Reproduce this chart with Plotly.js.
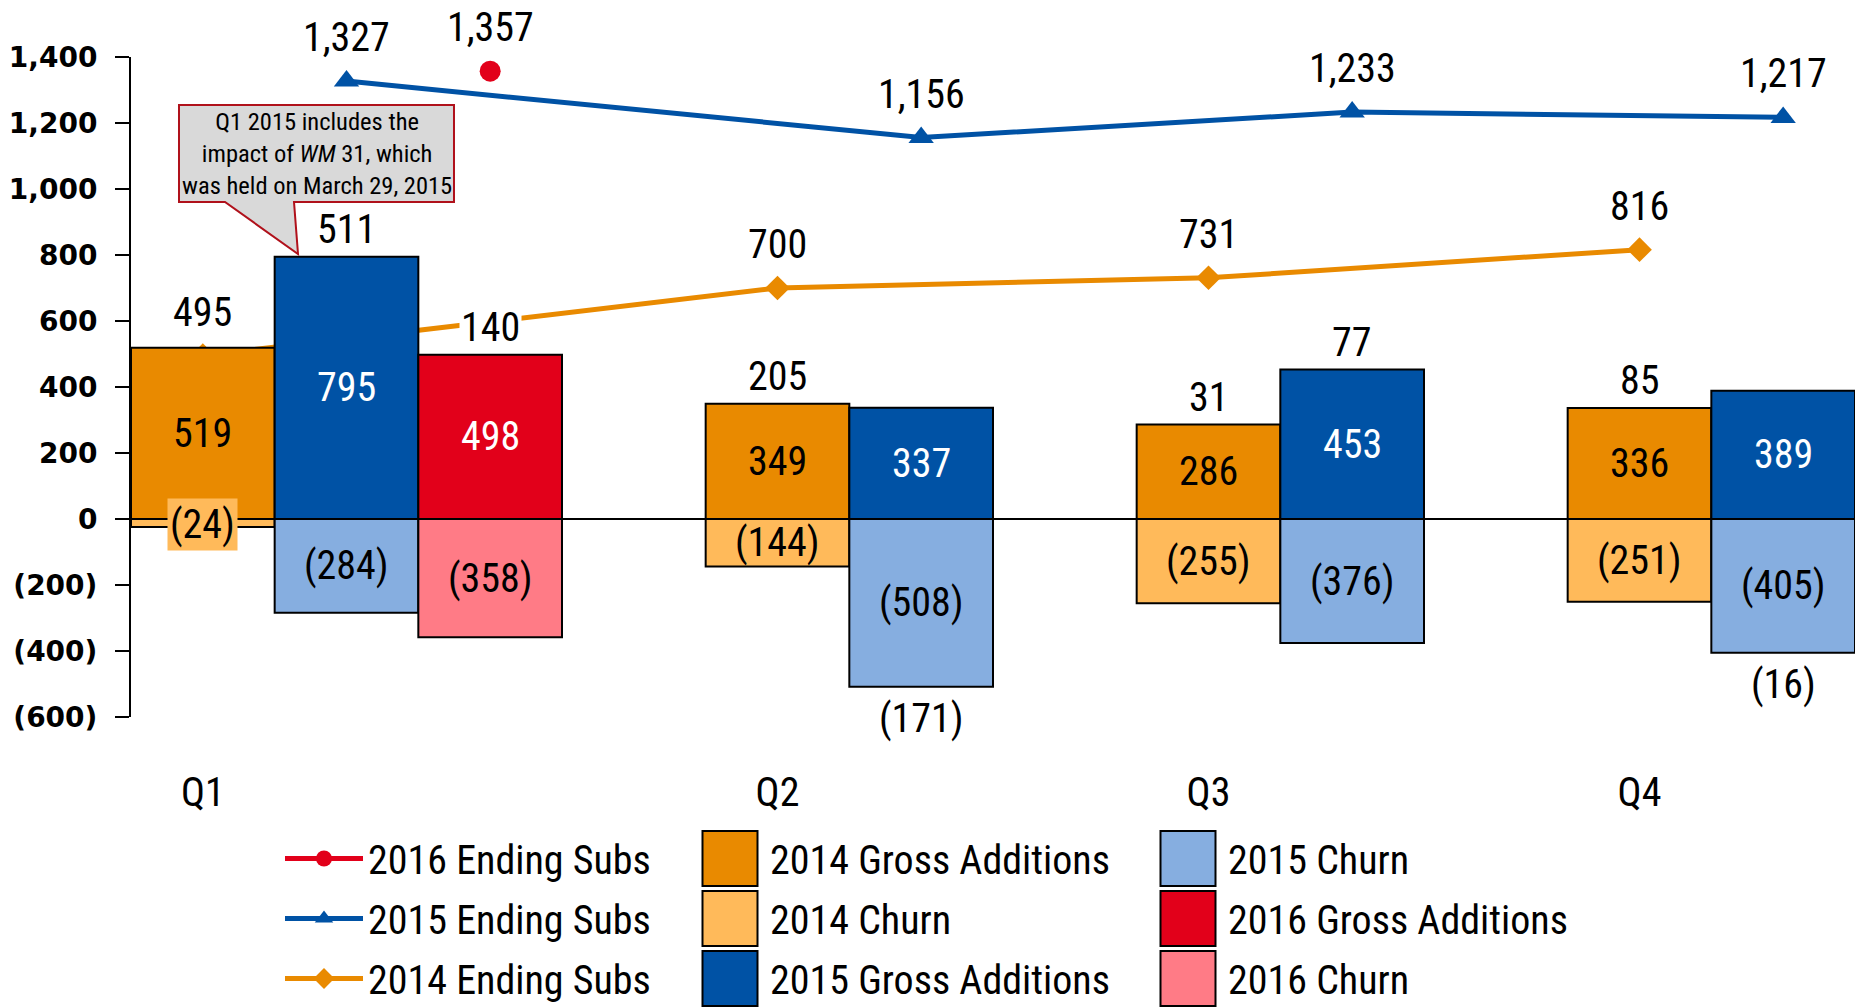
<!DOCTYPE html>
<html><head><meta charset="utf-8">
<script src="https://cdn.plot.ly/plotly-3.0.1.min.js"></script>
<style>html,body{margin:0;padding:0;background:#fff}#chart{width:1858px;height:1007px}</style>
</head><body><div id="chart"></div>
<script>
// ---------------- DATA ----------------
const quarters = ['Q1', 'Q2', 'Q3', 'Q4'];
const gross2014 = [519, 349, 286, 336];
const churn2014 = [-24, -144, -255, -251];
const gross2015 = [795, 337, 453, 389];
const churn2015 = [-284, -508, -376, -405];
const gross2016 = [498];
const churn2016 = [-358];
const ending2014 = [495, 700, 731, 816];
const ending2015 = [1327, 1156, 1233, 1217];
const ending2016 = [1357];
const yTickVals = [-600, -400, -200, 0, 200, 400, 600, 800, 1000, 1200, 1400];
const yTickText = ['(600)', '(400)', '(200)', '0', '200', '400', '600', '800', '1,000', '1,200', '1,400'];
const calloutText = 'Q1 2015 includes the<br>impact of <i>WM</i> 31, which<br>was held on March 29, 2015';

// ---------------- LAYOUT HELPERS ----------------
const W = 1858, H = 1007;
const M = {l: 131, r: 3, t: 57, b: 290, autoexpand: false};
const PW = W - M.l - M.r, PH = H - M.t - M.b;
const px2x = p => (p - M.l) / PW;
const px2y = p => (M.t + PH - p) / PH;
const slotOf = (q, yearOffset) => (q === 0 ? 0 : 3 * q + 1) + yearOffset;

const NARROW = '"Roboto Condensed", "Liberation Sans Narrow", "Arial Narrow", "DejaVu Sans Condensed", sans-serif';
const FS = 40;
const C = {
  g14: '#E98A00', c14: '#FFBA5A',
  g15: '#0052A5', c15: '#86AEE0',
  g16: '#E2001A', c16: '#FF7B86'
};

const fmt = v => {
  const s = Math.abs(v).toLocaleString('en-US');
  return v < 0 ? '(' + s + ')' : s;
};

const series = [
  {year: 2014, off: 0, gross: gross2014, churn: churn2014, ending: ending2014, gc: C.g14, cc: C.c14, gtxt: '#000', line: C.g14, sym: 'diamond', msize: 19, legRank: 3},
  {year: 2015, off: 1, gross: gross2015, churn: churn2015, ending: ending2015, gc: C.g15, cc: C.c15, gtxt: '#fff', line: C.g15, sym: 'triangle-up', msize: 22, legRank: 2},
  {year: 2016, off: 2, gross: gross2016, churn: churn2016, ending: ending2016, gc: C.g16, cc: C.c16, gtxt: '#fff', line: C.g16, sym: 'circle', msize: 21, legRank: 1}
];

const traces = [];
const annotations = [];
const barLegend = {2014: ['legend2', 'legend2'], 2015: ['legend2', 'legend3'], 2016: ['legend3', 'legend3']};
const barRank = {2014: [1, 2], 2015: [3, 1], 2016: [2, 3]};

// lines (base axis -> beneath bars)
series.slice().reverse().forEach(s => {
  const xs = s.ending.map((v, q) => slotOf(q, s.off));
  traces.push({
    type: 'scatter', mode: 'lines+markers', name: s.year + ' Ending Subs',
    x: xs, y: s.ending, xaxis: 'x', yaxis: 'y',
    line: {color: s.line, width: 5},
    marker: {symbol: s.sym, size: s.msize, color: s.line},
    cliponaxis: false, legend: 'legend', legendrank: s.legRank, legendgroup: 'e' + s.year, hoverinfo: 'skip'
  });
  s.ending.forEach((v, q) => {
    annotations.push({x: slotOf(q, s.off), y: v, xref: 'x', yref: 'y', text: fmt(v), showarrow: false,
      yanchor: 'bottom', yshift: 18, font: {family: NARROW, size: FS, color: '#000'}});
  });
});

// bars (overlay axis -> drawn on top of lines)
series.forEach(s => {
  const xs = s.gross.map((v, q) => slotOf(q, s.off));
  traces.push({
    type: 'bar', name: s.year + ' Gross Additions', x: xs, y: s.gross, xaxis: 'x', yaxis: 'y2', width: 1,
    marker: {color: s.gc, line: {color: '#000', width: 2}},
    legend: barLegend[s.year][0], legendrank: barRank[s.year][0], legendgroup: 'g' + s.year, hoverinfo: 'skip'
  });
  traces.push({
    type: 'bar', name: s.year + ' Churn', x: xs, y: s.churn, xaxis: 'x', yaxis: 'y2', width: 1,
    marker: {color: s.cc, line: {color: '#000', width: 2}},
    legend: barLegend[s.year][1], legendrank: barRank[s.year][1], legendgroup: 'c' + s.year, hoverinfo: 'skip'
  });
  s.gross.forEach((g, q) => {
    const x = slotOf(q, s.off);
    const c = s.churn[q];
    annotations.push({x, y: g / 2, xref: 'x', yref: 'y2', text: fmt(g), showarrow: false,
      font: {family: NARROW, size: FS, color: s.gtxt}});
    const small = Math.abs(c) < 80;
    annotations.push({x, y: small ? c / 2 - 6 : c / 2, xref: 'x', yref: 'y2', text: fmt(c), showarrow: false,
      bgcolor: small ? s.cc : 'rgba(0,0,0,0)', borderpad: small ? 2 : 1,
      font: {family: NARROW, size: FS, color: '#000'}});
    const net = g + c;
    if (q === 0 && s.year === 2014 && net === s.ending[0]) return; // shown by ending label
    if (net >= 0) {
      annotations.push({x, y: g, xref: 'x', yref: 'y2', text: fmt(net), showarrow: false,
        yanchor: 'bottom', yshift: 2, bgcolor: '#fff', font: {family: NARROW, size: FS, color: '#000'}});
    } else {
      annotations.push({x, y: c, xref: 'x', yref: 'y2', text: fmt(net), showarrow: false,
        yanchor: 'top', yshift: -6, font: {family: NARROW, size: FS, color: '#000'}});
    }
  });
});

// callout
const box = {l: 179, r: 454, t: 105, b: 202, wl: 225, wr: 294, tx: 298, ty: 254};
const pts = [[box.l, box.t], [box.r, box.t], [box.r, box.b], [box.wr, box.b], [box.tx, box.ty], [box.wl, box.b], [box.l, box.b]];
const path = 'M' + pts.map(p => px2x(p[0]).toFixed(5) + ',' + px2y(p[1]).toFixed(5)).join('L') + 'Z';
annotations.push({xref: 'paper', yref: 'paper', x: px2x((box.l + box.r) / 2), y: px2y((box.t + box.b) / 2),
  text: calloutText, showarrow: false, xanchor: 'center', yanchor: 'middle',
  font: {family: NARROW, size: 24.5, color: '#000'}});

const axisY = {
  range: [-600, 1400], domain: [0, 1], tickvals: yTickVals, ticktext: yTickText,
  ticks: 'outside', ticklen: 14, tickwidth: 2, tickcolor: '#000',
  showline: true, linewidth: 2, linecolor: '#000', showgrid: false,
  zeroline: true, zerolinecolor: '#000', zerolinewidth: 2,
  tickfont: {family: '"DejaVu Sans", Verdana, sans-serif', size: 28, color: '#000', weight: 'bold'},
  ticklabelstandoff: 12, fixedrange: true
};

const legendBase = {
  yanchor: 'top', xanchor: 'left', y: px2y(826), bgcolor: 'rgba(0,0,0,0)',
  font: {family: NARROW, size: 40, color: '#000'}, tracegroupgap: 5, orientation: 'v'
};

const layout = {
  width: W, height: H, margin: M, paper_bgcolor: '#fff', plot_bgcolor: '#fff',
  barmode: 'overlay', showlegend: true, hovermode: false,
  xaxis: {range: [-0.5, 11.5], tickvals: quarters.map((q, i) => slotOf(i, 0)), ticktext: quarters,
    showline: false, showgrid: false, zeroline: false, ticks: '', ticklabelstandoff: 48,
    tickfont: {family: NARROW, size: FS, color: '#000'}, fixedrange: true},
  yaxis: axisY,
  yaxis2: Object.assign({}, axisY, {overlaying: 'y', showline: false, showticklabels: false, ticks: '', zeroline: false}),
  legend: Object.assign({}, legendBase, {x: px2x(280), itemwidth: 78}),
  legend2: Object.assign({}, legendBase, {x: px2x(690), itemwidth: 70}),
  legend3: Object.assign({}, legendBase, {x: px2x(1148), itemwidth: 70}),
  shapes: [{type: 'path', xref: 'paper', yref: 'paper', path, fillcolor: '#D9D9D9', line: {color: '#B0111B', width: 2}, layer: 'above'}],
  annotations
};

// enlarge the bar swatches of the legends to the reference's big boxes
function bigSwatches(gd) {
  gd.querySelectorAll('.legendpoints path').forEach(p => {
    const cls = p.getAttribute('class') || '';
    if (cls.indexOf('legendbar') >= 0 || cls.indexOf('legendundefined') >= 0) {
      p.setAttribute('d', 'M27.5,27.5H-27.5V-27.5H27.5Z');
    }
  });
}
const gd = document.getElementById('chart');
Plotly.newPlot(gd, traces, layout, {displayModeBar: false, staticPlot: true}).then(() => {
  bigSwatches(gd);
  gd.on('plotly_afterplot', () => bigSwatches(gd));
  setTimeout(() => bigSwatches(gd), 50);
});
</script></body></html>
